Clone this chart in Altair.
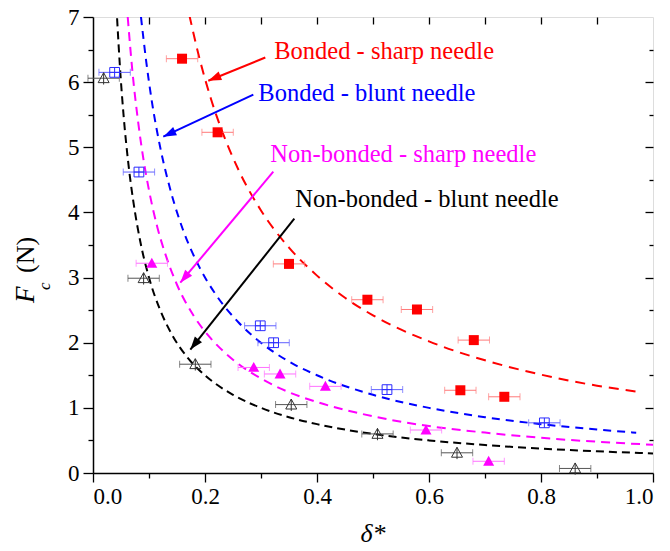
import math
import altair as alt
import pandas as pd

FONT = "Liberation Serif, Times New Roman, Times, serif"

# ---- measured data points (delta*, Fc) ----
red_x = [0.159, 0.2225, 0.350, 0.490, 0.5785, 0.680, 0.656, 0.7345]
red_y = [6.36, 5.23, 3.21, 2.66, 2.51, 2.04, 1.27, 1.17]
blue_x = [0.0386, 0.082, 0.2987, 0.3225, 0.525, 0.806]
blue_y = [6.15, 4.62, 2.26, 2.00, 1.28, 0.77]
mag_x = [0.105, 0.287, 0.334, 0.415, 0.5946, 0.7065]
mag_y = [3.22, 1.62, 1.52, 1.33, 0.66, 0.18]
blk_x = [0.019, 0.0904, 0.1827, 0.354, 0.508, 0.650, 0.861]
blk_y = [6.06, 2.99, 1.67, 1.05, 0.60, 0.31, 0.07]
x_err = 0.028

# ---- fitted curves ----
red_cx = [0.172, 0.19, 0.21, 0.23, 0.26, 0.3, 0.35, 0.4, 0.45, 0.5, 0.6, 0.7, 0.8, 0.9, 0.97]
red_cy = [7.03, 6.37, 5.76, 5.26, 4.65, 4.03, 3.46, 3.03, 2.69, 2.42, 2.02, 1.73, 1.51, 1.34, 1.25]
blue_cx = [0.0857, 0.095, 0.105, 0.12, 0.14, 0.16, 0.19, 0.22, 0.26, 0.3, 0.35, 0.4, 0.5, 0.6, 0.7, 0.8, 0.9, 0.97]
blue_cy = [7.0, 6.32, 5.71, 5.0, 4.29, 3.75, 3.16, 2.73, 2.31, 2.0, 1.71, 1.5, 1.2, 1.0, 0.857, 0.75, 0.667, 0.619]
mag_cx = [0.062, 0.07, 0.08, 0.09, 0.1, 0.115, 0.13, 0.15, 0.18, 0.21, 0.25, 0.3, 0.35, 0.4, 0.5, 0.6, 0.7, 0.8, 0.9, 1.0]
mag_cy = [7.0, 6.2, 5.43, 4.82, 4.34, 3.77, 3.34, 2.89, 2.41, 2.07, 1.74, 1.45, 1.24, 1.09, 0.87, 0.72, 0.62, 0.54, 0.48, 0.434]
blk_cx = [0.043, 0.048, 0.055, 0.063, 0.072, 0.085, 0.1, 0.12, 0.14, 0.17, 0.2, 0.25, 0.3, 0.35, 0.4, 0.5, 0.6, 0.7, 0.8, 0.9, 1.0]
blk_cy = [6.98, 6.25, 5.45, 4.76, 4.17, 3.53, 3.0, 2.5, 2.14, 1.76, 1.5, 1.2, 1.0, 0.857, 0.75, 0.6, 0.5, 0.43, 0.375, 0.333, 0.3]

# ---- annotations ----
labels = ["Bonded - sharp needle", "Bonded - blunt needle",
          "Non-bonded - sharp needle", "Non-bonded - blunt needle"]
label_x = [0.3237, 0.2952, 0.3166, 0.3613]
label_y = [6.468, 5.823, 4.886, 4.195]
arrow_x0 = [0.3077, 0.2863, 0.3220, 0.3595]
arrow_y0 = [6.378, 5.808, 4.625, 3.904]
arrow_x1 = [0.2059, 0.1255, 0.1559, 0.1738]
arrow_y1 = [6.022, 5.163, 2.921, 1.895]
colors = ["#ff0000", "#0000ff", "#ff00ff", "#000000"]

# ---- ticks ----
x_major = [0.0, 0.2, 0.4, 0.6, 0.8, 1.0]
x_minor = [0.1, 0.3, 0.5, 0.7, 0.9]
x_all = [0.1, 0.2, 0.3, 0.4, 0.5, 0.6, 0.7, 0.8, 0.9]
y_major = [0, 1, 2, 3, 4, 5, 6, 7]
y_minor = [0.5, 1.5, 2.5, 3.5, 4.5, 5.5, 6.5]

W, H = 560, 456
XMAX, YMAX = 1.0, 7.0

xs = alt.Scale(domain=[0, XMAX], nice=False, zero=False)
ys = alt.Scale(domain=[0, YMAX], nice=False, zero=False)


def pts_df(xv, yv):
    return pd.DataFrame({"x": xv, "y": yv,
                         "lo": [v - x_err for v in xv],
                         "hi": [v + x_err for v in xv]})


def curve_df(xv, yv):
    return pd.DataFrame({"x": xv, "y": yv})


X = lambda f="x": alt.X(f"{f}:Q", scale=xs, axis=None)
Y = lambda f="y": alt.Y(f"{f}:Q", scale=ys, axis=None)

layers = []

# axis layers
axis_common = dict(grid=False, title=None, tickColor="black", tickWidth=1.3,
                   labelFont=FONT, labelColor="black", domainColor="black",
                   domainWidth=1.5)
ax_df = pts_df(red_x, red_y)


def axis_layer(xaxis, yaxis):
    return alt.Chart(ax_df).mark_point(opacity=0).encode(
        x=alt.X("x:Q", scale=xs, axis=xaxis),
        y=alt.Y("y:Q", scale=ys, axis=yaxis))


layers.append(axis_layer(
    alt.Axis(orient="bottom", values=x_major, format=".1f", tickSize=9,
             labelFontSize=23, labelPadding=3, domain=True, **axis_common),
    alt.Axis(orient="left", values=y_major, format="d", tickSize=10,
             labelFontSize=23, labelPadding=4, domain=True, **axis_common)))
layers.append(axis_layer(
    alt.Axis(orient="bottom", values=x_minor, tickSize=5, labels=False,
             domain=False, **axis_common),
    alt.Axis(orient="left", values=y_minor, tickSize=5, labels=False,
             domain=False, **axis_common)))
layers.append(axis_layer(
    alt.Axis(orient="top", values=x_all, tickSize=7, offset=-7, labels=False,
             domain=False, **axis_common),
    alt.Axis(orient="right", values=y_major[1:-1], tickSize=8, offset=-8,
             labels=False, domain=False, **axis_common)))
layers.append(axis_layer(
    None,
    alt.Axis(orient="right", values=y_minor, tickSize=4, offset=-4,
             labels=False, domain=False, **axis_common)))

# fitted curves
dash = [[10, 7], [8, 6], [9, 6], [8, 5]]
for (cx, cy), col, d in zip([(red_cx, red_cy), (blue_cx, blue_cy),
                             (mag_cx, mag_cy), (blk_cx, blk_cy)], colors, dash):
    layers.append(alt.Chart(curve_df(cx, cy)).mark_line(
        color=col, strokeWidth=2, strokeDash=d, clip=True,
        interpolate="monotone").encode(x=X(), y=Y()))

# error bars
err_colors = ["#ff7a7a", "#6060ff", "#ff70ff", "#555555"]
series = [(red_x, red_y), (blue_x, blue_y), (mag_x, mag_y), (blk_x, blk_y)]
for (sx, sy), ec in zip(series, err_colors):
    df = pts_df(sx, sy)
    layers.append(alt.Chart(df).mark_rule(color=ec, strokeWidth=1).encode(
        x=X("lo"), x2="hi", y=Y()))
    for f in ["lo", "hi"]:
        layers.append(alt.Chart(df).mark_tick(
            color=ec, orient="vertical", size=7, thickness=1).encode(
            x=X(f), y=Y()))

# markers
SQ = "M-1,-1H1V1H-1Z"
SQX = "M-1,-1H1V1H-1Z M0,-1V1 M-1,0H1"
TRI = "M0,-1L1,0.8L-1,0.8Z"
TRIX = "M0,-1L1,0.8L-1,0.8Z M0,-1V1.15"
layers.append(alt.Chart(pts_df(red_x, red_y)).mark_point(
    shape=SQ, filled=True, color="#ff0000", opacity=1, size=100).encode(x=X(), y=Y()))
layers.append(alt.Chart(pts_df(blue_x, blue_y)).mark_point(
    shape=SQX, filled=False, color="#2a2aff", opacity=1, size=95,
    strokeWidth=1).encode(x=X(), y=Y()))
layers.append(alt.Chart(pts_df(mag_x, mag_y)).mark_point(
    shape=TRI, filled=True, color="#ff00ff", opacity=1, size=121).encode(x=X(), y=Y()))
layers.append(alt.Chart(pts_df(blk_x, blk_y)).mark_point(
    shape=TRIX, filled=False, color="#333333", opacity=1, size=121,
    strokeWidth=1).encode(x=X(), y=Y()))

# arrows
angles = []
for x0, y0, x1, y1 in zip(arrow_x0, arrow_y0, arrow_x1, arrow_y1):
    dx = (x1 - x0) * W / XMAX
    dy = -(y1 - y0) * H / YMAX
    angles.append(math.degrees(math.atan2(dx, -dy)) % 360)
arr_df = pd.DataFrame({"x0": arrow_x0, "y0": arrow_y0, "x1": arrow_x1,
                       "y1": arrow_y1, "ang": angles, "c": colors})
col_scale = alt.Scale(domain=colors, range=colors)
layers.append(alt.Chart(arr_df).mark_rule(strokeWidth=2).encode(
    x=X("x0"), y=Y("y0"), x2="x1", y2="y1",
    color=alt.Color("c:N", scale=col_scale, legend=None)))
layers.append(alt.Chart(arr_df).mark_point(
    shape="M0,0L-0.7,2L0.7,2Z", filled=True, opacity=1, size=169).encode(
    x=X("x1"), y=Y("y1"), angle=alt.Angle("ang:Q", scale=None),
    color=alt.Color("c:N", scale=col_scale, legend=None)))

# annotation texts
lab_df = pd.DataFrame({"x": label_x, "y": label_y, "t": labels, "c": colors})
layers.append(alt.Chart(lab_df).mark_text(
    align="left", baseline="middle", font=FONT, fontSize=24.5).encode(
    x=X(), y=Y(), text="t:N",
    color=alt.Color("c:N", scale=col_scale, legend=None)))

# axis titles
ytitle = pd.DataFrame({"t": ["F", "c", "(N)"]})
layers.append(alt.Chart(ytitle).transform_filter("datum.t == 'F'").mark_text(
    align="left", baseline="alphabetic", angle=270, font=FONT, fontSize=27,
    fontStyle="italic", color="black").encode(
    x=alt.value(-59), y=alt.value(286), text="t:N"))
layers.append(alt.Chart(ytitle).transform_filter("datum.t == 'c'").mark_text(
    align="left", baseline="alphabetic", angle=270, font=FONT, fontSize=17,
    fontStyle="italic", color="black").encode(
    x=alt.value(-43), y=alt.value(273), text="t:N"))
layers.append(alt.Chart(ytitle).transform_filter("datum.t == '(N)'").mark_text(
    align="left", baseline="alphabetic", angle=270, font=FONT, fontSize=26,
    color="black").encode(
    x=alt.value(-59), y=alt.value(256), text="t:N"))
xtitle = pd.DataFrame({"t": ["\u03b4*"]})
layers.append(alt.Chart(xtitle).mark_text(
    align="center", baseline="alphabetic", font=FONT, fontSize=26,
    fontStyle="italic", color="black").encode(
    x=alt.value(W / 2), y=alt.value(525), text="t:N"))

chart = alt.layer(*layers).resolve_axis(x="independent", y="independent").properties(
    width=W, height=H,
    autosize=alt.AutoSizeParams(type="none"),
    padding={"left": 93, "top": 17, "right": 17, "bottom": 78},
    background="white",
).configure_view(stroke="black", strokeWidth=1.5).configure(font=FONT)

chart.save("out.html", embed_options={"renderer": "svg", "actions": False})
